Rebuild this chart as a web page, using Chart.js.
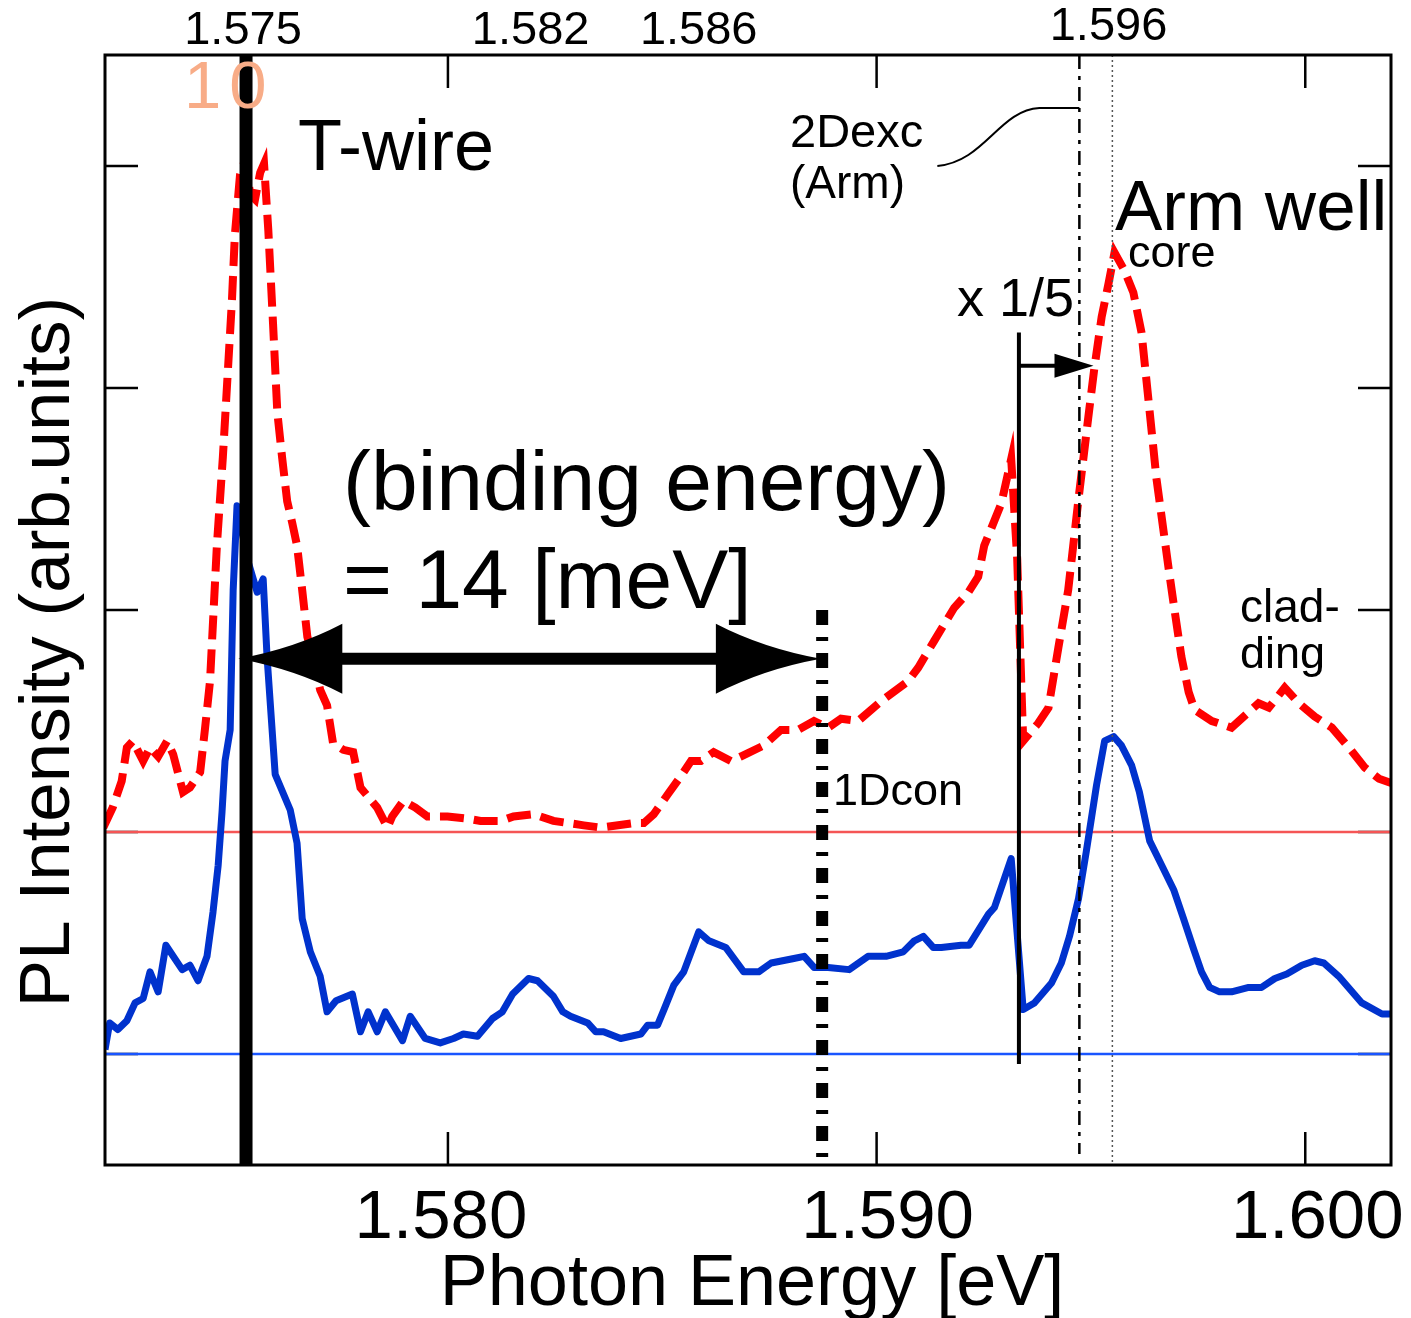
<!DOCTYPE html>
<html><head><meta charset="utf-8">
<script src="https://cdn.jsdelivr.net/npm/chart.js@4/dist/chart.umd.min.js"></script>
<style>html,body{margin:0;padding:0;background:#fff;}#wrap{position:relative;width:1411px;height:1318px;}canvas{display:block;}</style>
</head><body><div id="wrap"><canvas id="c" width="1411" height="1318"></canvas></div>
<script>
// ---- data (photon energy in eV, PL intensity in arb. units) ----
const blueEnergy = [1.57200,1.57211,1.57230,1.57251,1.57270,1.57289,1.57305,1.57324,1.57342,1.57380,1.57398,1.57417,1.57438,1.57452,1.57464,1.57473,1.57480,1.57492,1.57499,1.57508,1.57532,1.57555,1.57569,1.57578,1.57597,1.57632,1.57648,1.57660,1.57679,1.57702,1.57718,1.57739,1.57777,1.57796,1.57814,1.57835,1.57854,1.57894,1.57912,1.57947,1.57982,1.58013,1.58036,1.58069,1.58104,1.58127,1.58151,1.58188,1.58209,1.58246,1.58268,1.58286,1.58326,1.58345,1.58363,1.58403,1.58450,1.58466,1.58489,1.58504,1.58527,1.58550,1.58585,1.58609,1.58648,1.58690,1.58725,1.58754,1.58807,1.58831,1.58854,1.58887,1.58936,1.58980,1.59022,1.59062,1.59088,1.59109,1.59132,1.59151,1.59197,1.59216,1.59261,1.59275,1.59314,1.59342,1.59368,1.59408,1.59431,1.59450,1.59471,1.59489,1.59513,1.59532,1.59553,1.59571,1.59595,1.59613,1.59637,1.59665,1.59693,1.59716,1.59740,1.59758,1.59777,1.59800,1.59828,1.59868,1.59898,1.59929,1.59957,1.59992,1.60022,1.60043,1.60078,1.60132,1.60179,1.60202];
const blueIntensity = [0.02,0.14,0.11,0.15,0.23,0.25,0.37,0.28,0.49,0.38,0.40,0.33,0.44,0.64,0.85,1.09,1.32,1.46,2.09,2.47,2.23,2.08,2.14,1.79,1.26,1.10,0.95,0.61,0.46,0.35,0.19,0.24,0.27,0.10,0.19,0.10,0.19,0.06,0.17,0.07,0.05,0.07,0.09,0.08,0.16,0.19,0.27,0.34,0.33,0.26,0.19,0.17,0.14,0.10,0.10,0.07,0.09,0.13,0.13,0.20,0.31,0.37,0.55,0.51,0.48,0.37,0.37,0.41,0.43,0.44,0.39,0.39,0.38,0.44,0.44,0.46,0.51,0.53,0.48,0.48,0.49,0.49,0.63,0.66,0.88,0.20,0.23,0.32,0.41,0.53,0.70,0.91,1.21,1.41,1.43,1.39,1.30,1.18,0.96,0.85,0.74,0.61,0.47,0.37,0.30,0.28,0.28,0.30,0.30,0.34,0.36,0.40,0.42,0.41,0.35,0.23,0.18,0.18];

const redEnergy = [1.57196,1.57218,1.57239,1.57251,1.57265,1.57289,1.57305,1.57324,1.57345,1.57359,1.57382,1.57398,1.57422,1.57433,1.57445,1.57461,1.57475,1.57487,1.57496,1.57503,1.57515,1.57527,1.57539,1.57550,1.57562,1.57571,1.57581,1.57592,1.57602,1.57613,1.57625,1.57637,1.57648,1.57660,1.57672,1.57686,1.57702,1.57718,1.57732,1.57756,1.57779,1.57796,1.57835,1.57859,1.57870,1.57896,1.57924,1.57952,1.57999,1.58046,1.58076,1.58123,1.58153,1.58200,1.58246,1.58317,1.58356,1.58433,1.58457,1.58480,1.58513,1.58543,1.58567,1.58590,1.58620,1.58660,1.58683,1.58737,1.58777,1.58817,1.58854,1.58887,1.58917,1.58957,1.59011,1.59074,1.59097,1.59134,1.59181,1.59214,1.59237,1.59251,1.59268,1.59291,1.59314,1.59328,1.59342,1.59377,1.59401,1.59424,1.59447,1.59471,1.59494,1.59508,1.59525,1.59541,1.59555,1.59578,1.59599,1.59618,1.59634,1.59653,1.59681,1.59695,1.59711,1.59728,1.59742,1.59782,1.59828,1.59868,1.59891,1.59915,1.59952,1.59985,1.60022,1.60062,1.60102,1.60139,1.60172,1.60202];
// red spectrum (x 1/5), measured from its own baseline
const redIntensity = [0.02,0.11,0.23,0.38,0.41,0.32,0.38,0.34,0.41,0.35,0.18,0.20,0.27,0.46,0.68,1.29,1.69,2.09,2.39,2.69,2.96,3.03,2.87,2.85,2.97,3.01,2.71,2.29,1.89,1.69,1.49,1.39,1.29,1.09,0.88,0.78,0.64,0.57,0.40,0.37,0.36,0.20,0.11,0.02,0.07,0.14,0.11,0.07,0.07,0.06,0.05,0.05,0.07,0.08,0.05,0.03,0.02,0.04,0.04,0.08,0.17,0.25,0.32,0.32,0.36,0.32,0.34,0.39,0.46,0.46,0.50,0.47,0.51,0.50,0.59,0.68,0.74,0.86,1.01,1.08,1.15,1.29,1.37,1.48,1.68,1.23,0.41,0.49,0.56,0.83,1.09,1.50,1.87,2.09,2.32,2.47,2.61,2.53,2.43,2.25,1.95,1.59,1.19,1.00,0.79,0.63,0.55,0.50,0.47,0.54,0.58,0.56,0.65,0.58,0.52,0.47,0.38,0.29,0.24,0.22];
const redOffset = 1;

const xMin = 1.572, xMax = 1.602, yMin = -0.5, yMax = 4.5;
const xTickValues = [1.580, 1.590, 1.600];
const xTickLabels = ['1.580', '1.590', '1.600'];
const yTickValues = [0, 1, 2, 3, 4];
const topMarkValues = [1.57522, 1.58193, 1.58585, 1.59541];
const topMarkLabels = ['1.575', '1.582', '1.586', '1.596'];

// reference lines: energy, [start, end] in intensity units
const lineTWire = 1.57529,   spanTWire = [-0.5, 4.5];
const line1Dcon = 1.58873,   span1Dcon = [2.0, -0.47];
const lineScale = 1.59332,   spanScale = [3.25, -0.045];
const line2Dexc = 1.59473,   span2Dexc = [4.5, -0.45];
const lineCore  = 1.59550,   spanCore  = [4.5, -0.5];

// arrows
const bindArrowFrom = 1.57511, bindArrowTo = 1.58870, bindArrowY = 1.78;
const scaleArrowTo = 1.59506, scaleArrowY = 3.10;

const FONT = '"Liberation Sans", Arial, Helvetica, sans-serif';

function pts(xs, ys, off) { return xs.map((v, i) => ({x: v, y: ys[i] + off})); }
function vline(xv, span) { return [{x: xv, y: span[0]}, {x: xv, y: span[1]}]; }

const datasets = [
  {data: [{x: xMin, y: 0}, {x: xMax, y: 0}], borderColor: 'rgb(25,85,255)', borderWidth: 2.5, order: 12},
  {data: [{x: xMin, y: redOffset}, {x: xMax, y: redOffset}], borderColor: 'rgb(245,85,85)', borderWidth: 2.5, order: 12},
  {data: pts(redEnergy, redIntensity, redOffset), borderColor: 'rgb(255,0,0)', borderWidth: 8, borderDash: [24, 10], order: 10},
  {data: pts(blueEnergy, blueIntensity, 0), borderColor: 'rgb(0,50,205)', borderWidth: 7, borderJoinStyle: 'round', order: 9},
  {data: vline(lineCore, spanCore), borderColor: '#555', borderWidth: 1.5, borderDash: [2, 3], order: 3},
  {data: vline(line2Dexc, span2Dexc), borderColor: '#000', borderWidth: 2.5, borderDash: [14, 7, 4, 7], order: 3},
  {data: vline(lineScale, spanScale), borderColor: '#000', borderWidth: 4, order: 3},
  {data: vline(line1Dcon, span1Dcon), borderColor: '#000', borderWidth: 12, borderDash: [15, 12, 4, 12], order: 2},
  {data: vline(lineTWire, spanTWire), borderColor: '#000', borderWidth: 13, order: 1}
].map(d => Object.assign({pointRadius: 0, tension: 0, fill: false, borderCapStyle: 'butt'}, d));

function arrowHead(ctx, tx, ty, dir, L, W, concave) {
  ctx.beginPath();
  ctx.moveTo(tx, ty);
  if (concave) {
    ctx.quadraticCurveTo(tx - dir * L * 0.55, ty - W * 0.3, tx - dir * L, ty - W);
    ctx.lineTo(tx - dir * L, ty + W);
    ctx.quadraticCurveTo(tx - dir * L * 0.55, ty + W * 0.3, tx, ty);
  } else {
    ctx.lineTo(tx - dir * L, ty - W);
    ctx.lineTo(tx - dir * L, ty + W);
  }
  ctx.closePath();
  ctx.fill();
}

function text(ctx, s, x, y, size, align, color) {
  ctx.font = size + 'px ' + FONT;
  ctx.textAlign = align || 'left';
  ctx.fillStyle = color || '#000';
  ctx.fillText(s, x, y);
}

const decor = {
  id: 'decor',
  beforeDatasetsDraw(chart) {
    const {ctx, chartArea: a, scales: {x, y}} = chart;
    ctx.save();
    ctx.strokeStyle = '#000';
    ctx.lineWidth = 2.5;
    const tl = 33;
    ctx.beginPath();
    xTickValues.forEach(v => {
      const px = x.getPixelForValue(v);
      ctx.moveTo(px, a.bottom); ctx.lineTo(px, a.bottom - tl);
      ctx.moveTo(px, a.top); ctx.lineTo(px, a.top + tl);
    });
    yTickValues.forEach(v => {
      const py = y.getPixelForValue(v);
      ctx.moveTo(a.left, py); ctx.lineTo(a.left + tl, py);
      ctx.moveTo(a.right, py); ctx.lineTo(a.right - tl, py);
    });
    ctx.stroke();
    ctx.restore();
  },
  afterDatasetsDraw(chart) {
    const {ctx, chartArea: a, scales: {x, y}} = chart;
    ctx.save();
    // frame
    ctx.strokeStyle = '#000';
    ctx.lineWidth = 3;
    ctx.strokeRect(a.left, a.top, a.right - a.left, a.bottom - a.top);

    // binding-energy double arrow
    const ax1 = x.getPixelForValue(bindArrowFrom), ax2 = x.getPixelForValue(bindArrowTo);
    const ay = y.getPixelForValue(bindArrowY);
    ctx.fillStyle = '#000';
    ctx.lineWidth = 12;
    ctx.beginPath(); ctx.moveTo(ax1 + 100, ay); ctx.lineTo(ax2 - 100, ay); ctx.stroke();
    arrowHead(ctx, ax1, ay, -1, 104, 35, true);
    arrowHead(ctx, ax2, ay, 1, 105, 35, true);

    // x 1/5 small arrow
    const sx1 = x.getPixelForValue(lineScale), sx2 = x.getPixelForValue(scaleArrowTo);
    const sy = y.getPixelForValue(scaleArrowY);
    ctx.lineWidth = 4;
    ctx.beginPath(); ctx.moveTo(sx1, sy); ctx.lineTo(sx2 - 30, sy); ctx.stroke();
    arrowHead(ctx, sx2, sy, 1, 39, 12, false);

    // 2Dexc leader curve
    const cx = x.getPixelForValue(line2Dexc);
    ctx.lineWidth = 2;
    ctx.beginPath();
    ctx.moveTo(cx - 142, 166);
    ctx.bezierCurveTo(cx - 95, 162, cx - 80, 110, cx - 40, 108);
    ctx.lineTo(cx, 108);
    ctx.stroke();

    // bottom tick labels
    const offs = [-7, 11, 12];
    xTickValues.forEach((v, i) => text(ctx, xTickLabels[i], x.getPixelForValue(v) + offs[i], 1238, 69, 'center'));
    // top marker labels
    topMarkValues.forEach((v, i) => text(ctx, topMarkLabels[i], x.getPixelForValue(v), i === 3 ? 40 : 44, 47, 'center'));

    // axis titles
    text(ctx, 'Photon Energy [eV]', 752, 1305, 72, 'center');
    ctx.save();
    ctx.translate(69, 652);
    ctx.rotate(-Math.PI / 2);
    text(ctx, 'PL Intensity (arb.units)', 0, 0, 71, 'center');
    ctx.restore();

    // annotations
    ctx.save();
    ctx.letterSpacing = '8px';
    text(ctx, '10', 184, 108, 67, 'left', 'rgb(248,172,135)');
    ctx.restore();
    text(ctx, 'T-wire', 298, 170, 72, 'left');
    text(ctx, '(binding energy)', 343, 510, 84, 'left');
    text(ctx, '= 14 [meV]', 343, 608, 84, 'left');
    text(ctx, '2Dexc', 790, 147, 47, 'left');
    text(ctx, '(Arm)', 790, 198, 46, 'left');
    text(ctx, 'Arm well', 1115, 230, 71, 'left');
    text(ctx, 'core', 1128, 267, 45, 'left');
    text(ctx, 'x 1/5', 957, 316, 54, 'left');
    text(ctx, '1Dcon', 833, 805, 45, 'left');
    text(ctx, 'clad-', 1240, 622, 46, 'left');
    text(ctx, 'ding', 1240, 668, 45, 'left');
    ctx.restore();
  }
};

new Chart(document.getElementById('c'), {
  type: 'line',
  data: {datasets},
  options: {
    responsive: false,
    animation: false,
    events: [],
    devicePixelRatio: 1,
    layout: {padding: {left: 105, top: 55, right: 20, bottom: 153}},
    plugins: {legend: {display: false}, tooltip: {enabled: false}},
    scales: {
      x: {type: 'linear', min: xMin, max: xMax, display: false},
      y: {type: 'linear', min: yMin, max: yMax, display: false}
    }
  },
  plugins: [decor]
});
</script></body></html>
